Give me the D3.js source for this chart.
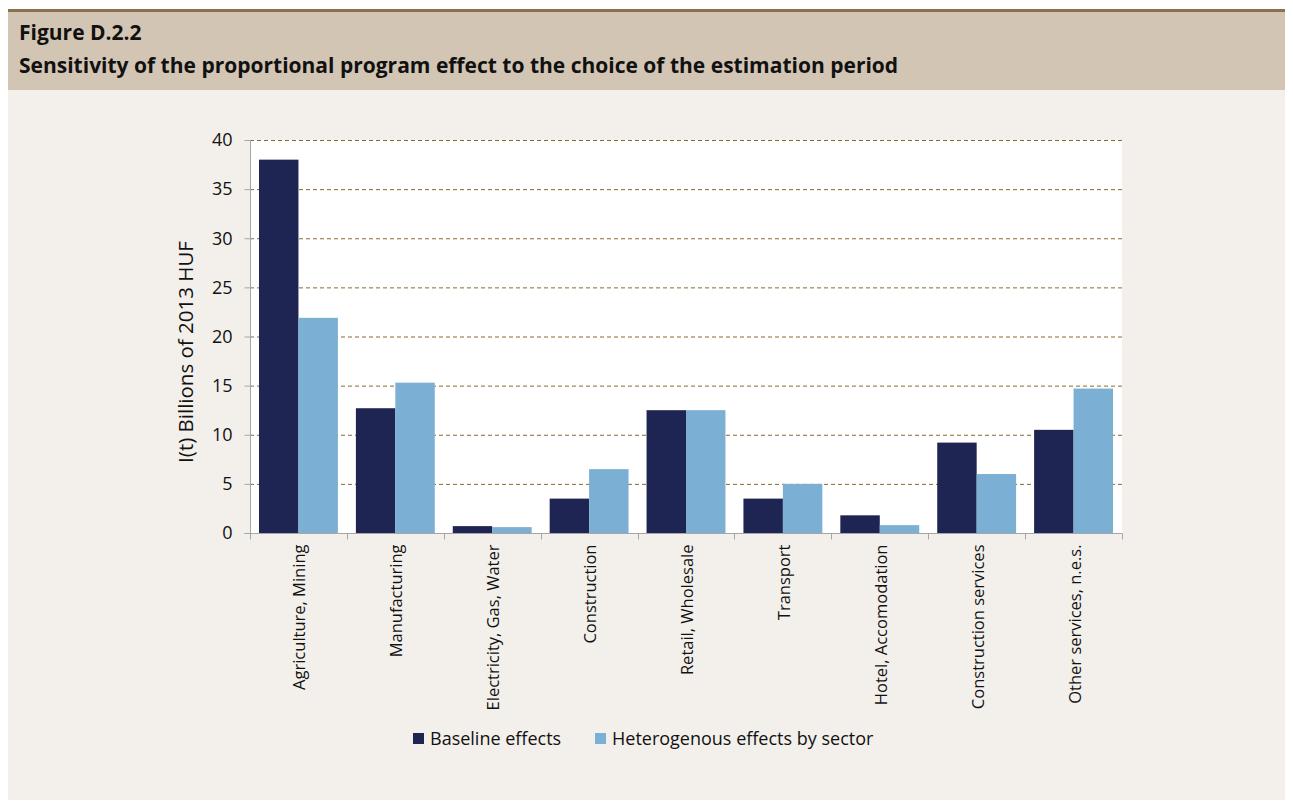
<!DOCTYPE html>
<html>
<head>
<meta charset="utf-8">
<script src="https://cdn.jsdelivr.net/npm/d3@7"></script>
<style>
  body { margin: 0; background: #ffffff; }
  svg { display: block; font-family: "Open Sans", sans-serif; }
</style>
</head>
<body>
<div id="chart"></div>
<script>
var categories = ["Agriculture, Mining", "Manufacturing", "Electricity, Gas, Water", "Construction",
                  "Retail, Wholesale", "Transport", "Hotel, Accomodation", "Construction services",
                  "Other services, n.e.s."]
var seriesNames = ["Baseline effects", "Heterogenous effects by sector"]
var baseline = [38.0, 12.7, 0.7, 3.5, 12.5, 3.5, 1.8, 9.2, 10.5]
var heterogenous = [21.9, 15.3, 0.6, 6.5, 12.5, 5.0, 0.8, 6.0, 14.7]
var yTicks = [0, 5, 10, 15, 20, 25, 30, 35, 40]
var colors = ["#1f2552", "#7bafd4"]

var W = 1293, H = 805
var margin = { top: 140, right: 171, bottom: 272, left: 250 }

var svg = d3.select("#chart").append("svg")
    .attr("width", W).attr("height", H)

// page background and header band
svg.append("rect").attr("x", 0).attr("y", 0).attr("width", W).attr("height", H).attr("fill", "#ffffff")
svg.append("rect").attr("x", 8).attr("y", 10).attr("width", W - 16).attr("height", 790).attr("fill", "#f3f0ec")
svg.append("rect").attr("x", 8).attr("y", 10).attr("width", W - 16).attr("height", 80).attr("fill", "#d3c5b4")
svg.append("rect").attr("x", 8).attr("y", 9).attr("width", W - 16).attr("height", 3).attr("fill", "#8c7050")

svg.append("text").attr("x", 19).attr("y", 40)
    .attr("font-size", 21).attr("font-weight", "bold").attr("fill", "#111")
    .text("Figure D.2.2")
svg.append("text").attr("x", 19).attr("y", 73)
    .attr("font-size", 21).attr("font-weight", "bold").attr("fill", "#111")
    .text("Sensitivity of the proportional program effect to the choice of the estimation period")

var pw = W - margin.left - margin.right
var ph = H - margin.top - margin.bottom
var g = svg.append("g").attr("transform", "translate(" + margin.left + "," + margin.top + ")")

var x0 = d3.scaleBand().domain(categories).range([0, pw]).padding(0)
var x1 = d3.scaleBand().domain(seriesNames).range([9, x0.bandwidth() - 9]).padding(0)
var y = d3.scaleLinear().domain([0, 40]).range([ph, 0])

g.append("rect").attr("width", pw).attr("height", ph).attr("fill", "#ffffff")

// dashed gridlines
g.selectAll(".grid").data(yTicks.filter(function(d){ return d > 0 }))
  .enter().append("line")
    .attr("x1", 0).attr("x2", pw)
    .attr("y1", function(d){ return y(d) + 0.5 }).attr("y2", function(d){ return y(d) + 0.5 })
    .attr("stroke", "#8a6a2c").attr("stroke-width", 1).attr("stroke-dasharray", "4,3")

// bars
var rows = categories.map(function(c, i){ return { cat: c, vals: [baseline[i], heterogenous[i]] } })
var grp = g.selectAll(".cat").data(rows).enter().append("g")
    .attr("transform", function(d){ return "translate(" + x0(d.cat) + ",0)" })
grp.selectAll("rect").data(function(d){ return d.vals.map(function(v, j){ return { s: seriesNames[j], v: v, j: j } }) })
  .enter().append("rect")
    .attr("x", function(d){ return x1(d.s) })
    .attr("width", x1.bandwidth())
    .attr("y", function(d){ return y(d.v) })
    .attr("height", function(d){ return ph - y(d.v) })
    .attr("fill", function(d){ return colors[d.j] })

// y axis
var yAxis = g.append("g").attr("transform", "translate(0.5,0)")
    .call(d3.axisLeft(y).tickValues(yTicks).tickSize(6).tickPadding(12))
yAxis.select(".domain").attr("stroke", "#a6a6a6").attr("d", "M-6," + (ph + 0.5) + "H0V0.5H-6")
yAxis.selectAll(".tick line").attr("stroke", "#a6a6a6")
yAxis.selectAll("text").attr("font-size", 18).attr("fill", "#111").attr("font-family", "'Open Sans', sans-serif")

// x axis with ticks at category boundaries
var xg = g.append("g").attr("transform", "translate(0," + (ph + 0.5) + ")")
xg.append("line").attr("x1", 0).attr("x2", pw).attr("stroke", "#a6a6a6")
xg.selectAll(".bt").data(d3.range(categories.length + 1)).enter().append("line")
    .attr("x1", function(i){ return Math.round(i * x0.step()) + 0.5 })
    .attr("x2", function(i){ return Math.round(i * x0.step()) + 0.5 })
    .attr("y1", 0).attr("y2", 6).attr("stroke", "#a6a6a6")
xg.selectAll(".lab").data(categories).enter().append("text")
    .attr("transform", function(d){ return "translate(" + (x0(d) + x0.bandwidth() / 2 + 7) + ",11) rotate(-90)" })
    .attr("text-anchor", "end")
    .attr("font-size", 16.5).attr("fill", "#111")
    .text(function(d){ return d })

// y label
svg.append("text")
    .attr("transform", "translate(193,352) rotate(-90)")
    .attr("text-anchor", "middle").attr("font-size", 20.5).attr("fill", "#111")
    .text("I(t) Billions of 2013 HUF")

// legend
var legX = [413, 595]
var leg = svg.selectAll(".leg").data(seriesNames).enter().append("g")
    .attr("transform", function(d, i){ return "translate(" + legX[i] + ",733)" })
leg.append("rect").attr("width", 11).attr("height", 11).attr("fill", function(d, i){ return colors[i] })
leg.append("text").attr("x", 17).attr("y", 11.5).attr("font-size", 18).attr("fill", "#111")
    .text(function(d){ return d })
</script>
</body>
</html>
